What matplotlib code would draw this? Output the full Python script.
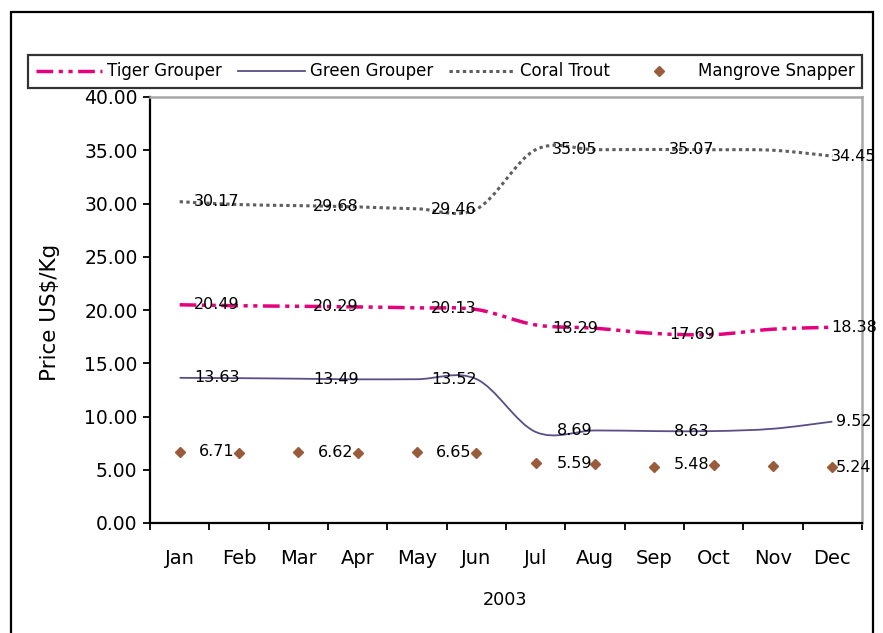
import matplotlib
matplotlib.use("Agg")
import matplotlib.pyplot as plt
from matplotlib.path import Path
from matplotlib.patches import PathPatch, Rectangle
from matplotlib.lines import Line2D
from matplotlib.ticker import FormatStrFormatter, FixedLocator

# ---------------- data ----------------
months = ["Jan", "Feb", "Mar", "Apr", "May", "Jun",
          "Jul", "Aug", "Sep", "Oct", "Nov", "Dec"]
year_label = "2003"
y_label = "Price US$/Kg"

tiger = [20.49, 20.40, 20.35, 20.29, 20.20, 20.05, 18.60, 18.29, 17.80, 17.69, 18.20, 18.38]
green = [13.63, 13.60, 13.55, 13.49, 13.50, 13.52, 8.55, 8.69, 8.63, 8.63, 8.85, 9.52]
coral = [30.17, 29.90, 29.80, 29.68, 29.50, 29.46, 35.05, 35.05, 35.07, 35.05, 35.00, 34.45]
mangrove = [6.71, 6.55, 6.62, 6.60, 6.65, 6.60, 5.59, 5.55, 5.30, 5.48, 5.35, 5.24]

tiger_labels = [20.49, 20.29, 20.13, 18.29, 17.69, 18.38]
green_labels = [13.63, 13.49, 13.52, 8.69, 8.63, 9.52]
coral_labels = [30.17, 29.68, 29.46, 35.05, 35.07, 34.45]
mangrove_labels = [6.71, 6.62, 6.65, 5.59, 5.48, 5.24]

# layout of the data labels (category units)
label_pos = [0.63, 2.63, 4.62, 6.66, 8.63, 11.36]

# ---------------- style ----------------
plt.rcParams["font.family"] = ["DejaVu Sans"]
plt.rcParams["lines.scale_dashes"] = False

c_tiger = "#E5007D"
c_green = "#5B4E86"
c_coral = "#5F5F5F"
c_mang = "#9A5B3A"

W, H = 883, 633
fig = plt.figure(figsize=(W / 100, H / 100), dpi=100)
ax = fig.add_axes([150 / W, 1 - 523 / H, (862 - 150) / W, (523 - 97) / H])

x = list(range(len(months)))


def smooth_path(xs, ys):
    pts = list(zip(xs, ys))
    n = len(pts)
    verts = [pts[0]]
    codes = [Path.MOVETO]
    for i in range(n - 1):
        p0 = pts[i - 1] if i > 0 else pts[i]
        p1 = pts[i]
        p2 = pts[i + 1]
        p3 = pts[i + 2] if i + 2 < n else pts[i + 1]
        c1 = (p1[0] + (p2[0] - p0[0]) / 6.0, p1[1] + (p2[1] - p0[1]) / 6.0)
        c2 = (p2[0] - (p3[0] - p1[0]) / 6.0, p2[1] - (p3[1] - p1[1]) / 6.0)
        verts += [c1, c2, p2]
        codes += [Path.CURVE4] * 3
    return Path(verts, codes)


ls_tiger = (0, (12, 4, 3, 4, 3, 4))
ls_coral = (0, (2.4, 2.4))

ax.add_patch(PathPatch(smooth_path(x, coral), fill=False, ec=c_coral, lw=2.2,
                       linestyle=ls_coral, capstyle="butt", zorder=3))
ax.add_patch(PathPatch(smooth_path(x, tiger), fill=False, ec=c_tiger, lw=2.5,
                       linestyle=ls_tiger, capstyle="butt", zorder=3))
ax.add_patch(PathPatch(smooth_path(x, green), fill=False, ec=c_green, lw=1.3,
                       linestyle="-", zorder=3))
ax.plot(x, mangrove, linestyle="none", marker="D", markersize=4.6,
        color=c_mang, zorder=4)

for vals in (tiger_labels, green_labels, coral_labels, mangrove_labels):
    for px, v in zip(label_pos, vals):
        ax.text(px, v, f"{v:.2f}", ha="center", va="center", fontsize=11.5,
                color="black", zorder=5)

ax.set_xlim(-0.5, len(months) - 0.5)
ax.set_ylim(0, 40)
ax.yaxis.set_major_locator(FixedLocator([0, 5, 10, 15, 20, 25, 30, 35, 40]))
ax.yaxis.set_major_formatter(FormatStrFormatter("%.2f"))
ax.tick_params(axis="y", direction="out", length=5, width=1.3, pad=4,
               labelsize=13.5)

ax.set_xticks([i - 0.5 for i in range(len(months) + 1)])
ax.set_xticklabels([])
ax.set_xticks(x, minor=True)
ax.set_xticklabels(months, minor=True)
ax.tick_params(axis="x", which="major", direction="out", length=5, width=1.3)
ax.tick_params(axis="x", which="minor", length=0, pad=19, labelsize=14)

for s in ("left", "bottom"):
    ax.spines[s].set_color("black")
    ax.spines[s].set_linewidth(1.6)
for s in ("top", "right"):
    ax.spines[s].set_color("#A8A8A8")
    ax.spines[s].set_linewidth(1.8)

fig.text(50 / W, 1 - 312 / H, y_label, rotation=90, ha="center", va="center",
         fontsize=15.5)
fig.text(505 / W, 1 - 600 / H, year_label, ha="center", va="center",
         fontsize=12.7)

# outer frame
fig.patches.append(Rectangle((11 / W, -0.05), (873 - 11) / W, 1.05 - 12 / H,
                             transform=fig.transFigure, fill=False, ec="black",
                             lw=1.6, zorder=0))

handles = [
    Line2D([], [], color=c_tiger, lw=2.5, linestyle=ls_tiger),
    Line2D([], [], color=c_green, lw=1.3, linestyle="-"),
    Line2D([], [], color=c_coral, lw=2.2, linestyle=ls_coral),
    Line2D([], [], color=c_mang, linestyle="none", marker="D", markersize=4.6),
]
names = ["Tiger Grouper", "Green Grouper", "Coral Trout", "Mangrove Snapper"]
leg = fig.legend(handles, names, loc="upper left",
                 bbox_to_anchor=(28 / W, 1 - 18 / H, (862 - 28) / W, -(55 - 18) / H),
                 mode="expand", ncol=4, fontsize=12, handlelength=4.0,
                 handletextpad=0.3, borderaxespad=0, borderpad=0.45,
                 columnspacing=1.0, fancybox=False, frameon=True)
leg.get_frame().set_edgecolor("black")
leg.get_frame().set_linewidth(1.6)

fig.savefig("out.png", dpi=100)
